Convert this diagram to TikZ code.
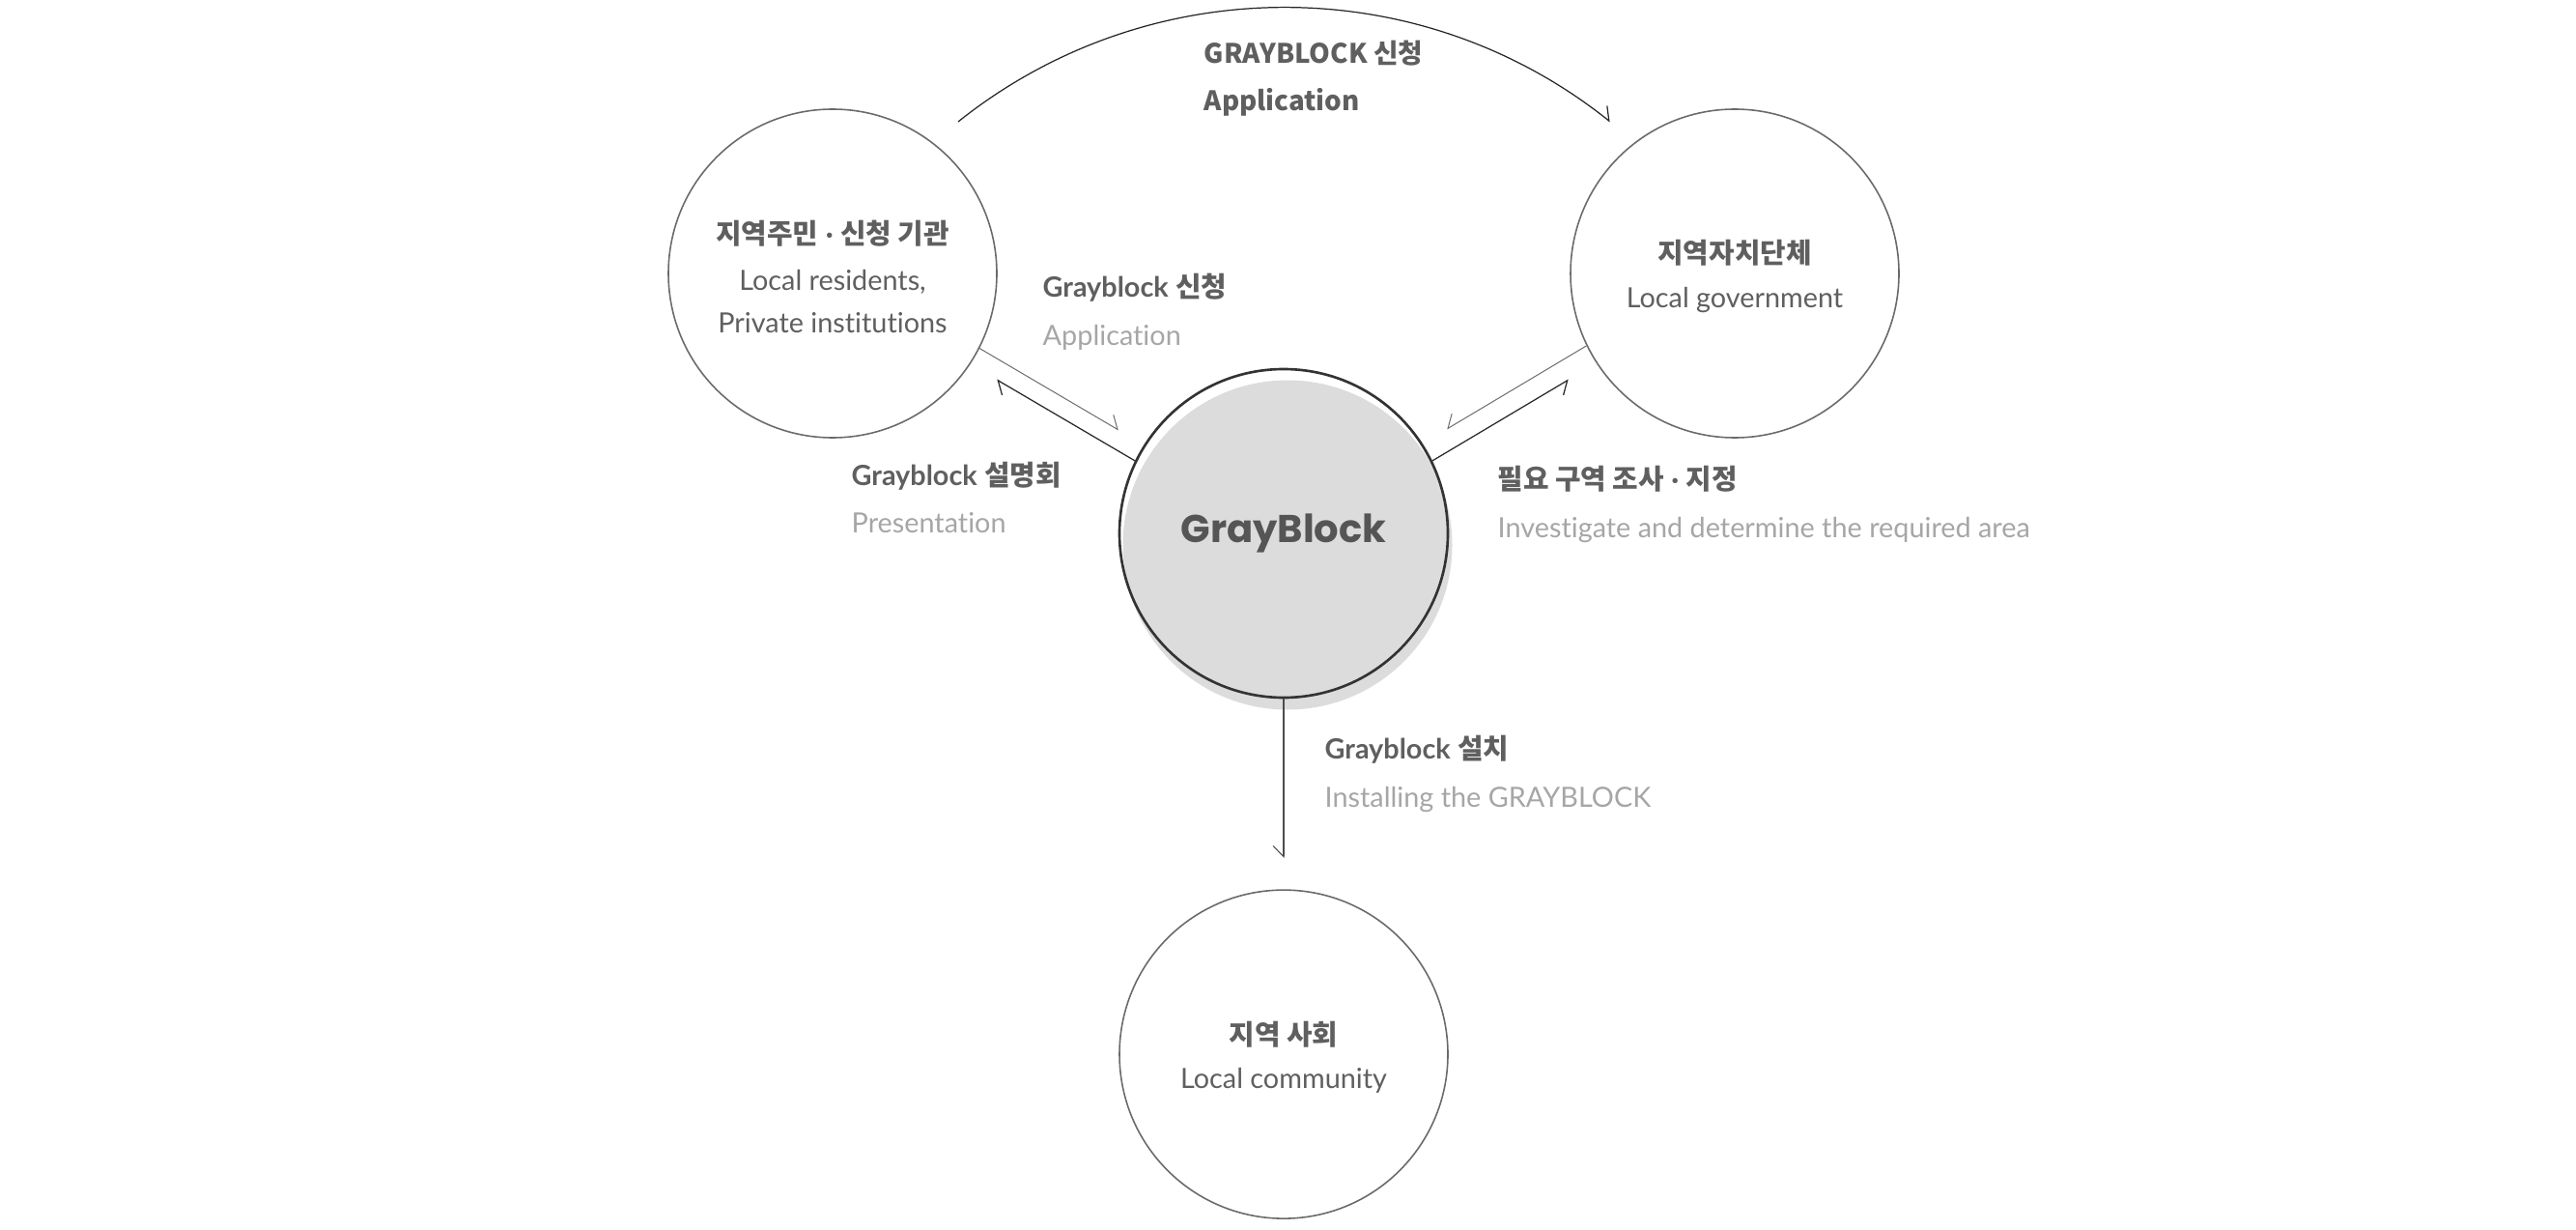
\documentclass[tikz,border=0pt]{standalone}
\usepackage{fontspec}
\setmainfont[Ligatures=NoCommon]{Lato}
\newfontfamily\kofont{Noto Sans CJK KR}
\newfontfamily\logofont{Poppins}
\usetikzlibrary{arrows.meta,positioning}
\definecolor{inkdark}{HTML}{5F5F5F}
\definecolor{inklight}{HTML}{A6A6A6}
\definecolor{ringgray}{HTML}{6A6A6A}
\definecolor{discgray}{HTML}{DCDCDC}
\newcommand{\ko}[1]{{\kofont #1}}
\newcommand{\topline}{\rule{0pt}{8.8pt}}
\tikzset{
  placebox/.style={circle, draw=ringgray, line width=0.45pt, minimum size=3.4cm, inner sep=0pt, align=center, text=inkdark, font=\fontsize{8.2}{13}\selectfont},
  stepnote/.style={anchor=west, inner sep=0pt, align=left, text=inkdark, font=\fontsize{8.2}{14.1}\selectfont},
  paleline/.style={draw=ringgray, line width=0.28pt},
  darkline/.style={draw=black!85, line width=0.35pt},
  midline/.style={draw=black!70, line width=0.3pt},
  tipleft/.style={-{Straight Barb[harpoon,length=3.2pt,width=6.2pt]}},
  tipright/.style={-{Straight Barb[harpoon,swap,length=3.2pt,width=6.2pt]}}
}
\begin{document}
\begin{tikzpicture}
            \useasboundingbox (0,0) rectangle (26.67,12.72);

            % Disque central
            \node[circle, fill=discgray, minimum size=3.41cm, inner sep=0pt] (shadow) at (13.33,7.08) {};
            \node[circle, draw=black!80, line width=0.75pt, minimum size=3.4cm, inner sep=0pt, text=inkdark!90!black, font=\logofont\bfseries\fontsize{11.4}{14}\selectfont] (grayblock) at (13.29,7.20) {\raisebox{-1.4pt}{GrayBlock}};

            % Acteurs
            \node[placebox] (residents) at (8.62,9.89) {\topline\ko{\bfseries 지역주민} \textbf{·} \ko{\bfseries 신청 기관}\\[0.6pt]Local residents,\\[-0.4pt]Private institutions};
            \node[placebox] (government) at (17.96,9.89) {\topline\ko{\bfseries 지역자치단체}\\Local government};
            \node[placebox, below=1.97cm of grayblock] (community) {\topline\ko{\bfseries 지역 사회}\\Local community};

            % Extrémités libres
            \coordinate (arcstart) at (9.92,11.46);
            \coordinate (arcend) at (16.67,11.46);
            \coordinate (tipapply) at (11.58,8.27);
            \coordinate (tipbrief) at (10.32,8.79);
            \coordinate (tipanswer) at (14.98,8.28);
            \coordinate (tipsurvey) at (16.24,8.79);
            \coordinate (tipinstall) at (13.29,3.84);

            % Flèches
            \draw[darkline, tipleft] (arcstart) to[out=38.6, in=141.4, looseness=0.96] (arcend);
            \draw[paleline, tipleft] (residents.-27) -- (tipapply);
            \draw[darkline, tipleft] (grayblock.154) -- (tipbrief);
            \draw[paleline, tipright] (government.206.7) -- (tipanswer);
            \draw[darkline, tipright] (grayblock.26.7) -- (tipsurvey);
            \draw[midline, tipright] (grayblock.south) -- (tipinstall);

            % Libellés
            \node[stepnote, font=\fontsize{7.9}{14.1}\selectfont] (noteregister) at (12.46,11.91) {\ko{\bfseries GRAYBLOCK 신청}\\\ko{\bfseries Application}};
            \node[stepnote] (noteapply) at (10.79,9.49) {\textbf{Grayblock} \ko{\bfseries 신청}\\\textcolor{inklight}{Application}};
            \node[stepnote] (notebrief) at (8.81,7.57) {\textbf{Grayblock} \ko{\bfseries 설명회}\\\textcolor{inklight}{Presentation}};
            \node[stepnote] (notesurvey) at (15.50,7.50) {\ko{\bfseries 필요 구역 조사} \textbf{·} \ko{\bfseries 지정}\\\textcolor{inklight}{Investigate and determine the required area}};
            \node[stepnote] (noteinstall) at (13.71,4.71) {\textbf{Grayblock} \ko{\bfseries 설치}\\\textcolor{inklight}{Installing the GRAYBLOCK}};
        \end{tikzpicture}
\end{document}
